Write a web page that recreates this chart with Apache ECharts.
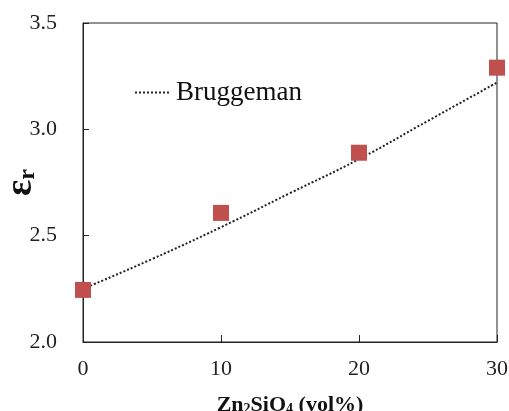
<!DOCTYPE html>
<html>
<head>
<meta charset="utf-8">
<script src="https://cdn.jsdelivr.net/npm/echarts@6/dist/echarts.min.js"></script>
<style>
  html, body { margin: 0; padding: 0; background: #fff; }
  #chart { width: 509px; height: 411px; }
</style>
</head>
<body>
<div id="chart"></div>
<script>
// measured points
const measX = [0, 10, 20, 30]
const measY = [2.245, 2.607, 2.89, 3.29]
// Bruggeman model curve
const modelX = [0, 5, 10, 15, 20, 25, 30]
const modelY = [2.25, 2.39, 2.54, 2.70, 2.86, 3.04, 3.22]
const xTicks = [0, 10, 20, 30]
const yTicks = [2.0, 2.5, 3.0, 3.5]

const serif = 'Liberation Serif'
const chart = echarts.init(document.getElementById('chart'))

const options = {
  animation: false,
  textStyle: { fontFamily: serif },
  grid: {
    left: 83,
    right: 12,
    top: 23,
    bottom: 69,
    outerBoundsMode: 'none',
    containLabel: false,
    show: true,
    borderColor: '#222',
    borderWidth: 1
  },
  legend: {
    data: ['Bruggeman'],
    left: 129,
    top: 74,
    itemWidth: 36,
    itemHeight: 10,
    itemGap: 6,
    itemStyle: { color: 'rgba(0,0,0,0)', borderWidth: 0 },
    textStyle: { fontFamily: serif, fontSize: 27, color: '#111' }
  },
  xAxis: {
    type: 'value',
    min: xTicks[0],
    max: xTicks[xTicks.length - 1],
    interval: 10,
    splitLine: { show: false },
    axisLine: { lineStyle: { color: '#222' } },
    axisTick: { inside: true, length: 7, lineStyle: { color: '#222' } },
    axisLabel: { fontFamily: serif, fontSize: 22, color: '#222', margin: 16 },
    name: '{b|Zn}{s|2}{b|SiO}{s|4}{b| (vol%)}',
    nameLocation: 'middle',
    nameGap: 52,
    nameMoveOverlap: false,
    nameTextStyle: {
      rich: {
        b: { fontFamily: serif, fontSize: 22, fontWeight: 'bold', color: '#111' },
        s: { fontFamily: serif, fontSize: 14, fontWeight: 'bold', color: '#111', verticalAlign: 'bottom', padding: [7, 0, 0, 0] }
      }
    }
  },
  yAxis: {
    type: 'value',
    min: yTicks[0],
    max: yTicks[yTicks.length - 1],
    interval: 0.5,
    splitLine: { show: false },
    axisLine: { show: true, lineStyle: { color: '#222' } },
    axisTick: { show: true, inside: true, length: 6, lineStyle: { color: '#222' } },
    axisLabel: {
      fontFamily: serif, fontSize: 22, color: '#222', margin: 26,
      formatter: v => v.toFixed(1)
    },
    name: '{e|ε}{r|r}',
    nameLocation: 'middle',
    nameRotate: 90,
    nameGap: 43,
    nameMoveOverlap: false,
    nameTextStyle: {
      rich: {
        e: { fontFamily: serif, fontSize: 38, fontWeight: 'bold', color: '#111' },
        r: { fontFamily: serif, fontSize: 24, fontWeight: 'bold', color: '#111', verticalAlign: 'bottom', padding: [12, 0, 0, 0] }
      }
    }
  },
  series: [
    {
      name: 'Bruggeman',
      type: 'line',
      data: modelX.map((x, i) => [x, modelY[i]]),
      smooth: true,
      showSymbol: false,
      symbol: 'none',
      lineStyle: { color: '#222', width: 2, type: [2, 2] },
      itemStyle: { color: '#222' },
      z: 2
    },
    {
      name: 'Measured',
      type: 'scatter',
      data: measX.map((x, i) => [x, measY[i]]),
      symbol: 'rect',
      symbolSize: 16,
      itemStyle: { color: '#C0504D', opacity: 1 },
      z: 3
    }
  ]
}

chart.setOption(options)
</script>
</body>
</html>
